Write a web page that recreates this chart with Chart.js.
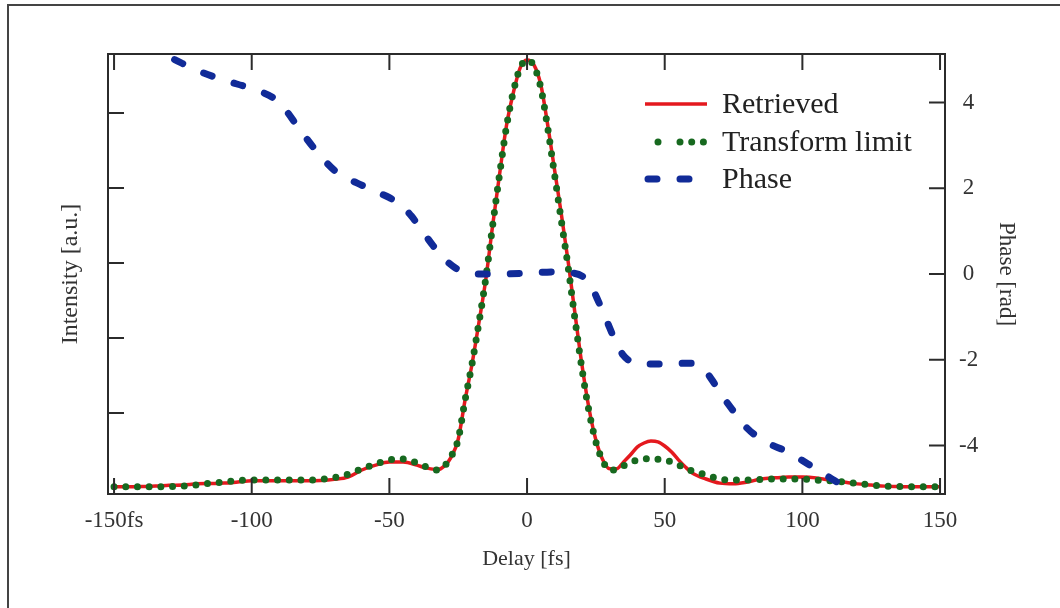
<!DOCTYPE html>
<html>
<head>
<meta charset="utf-8">
<script src="https://cdn.jsdelivr.net/npm/chart.js@4"></script>
<style>
  html, body { margin: 0; padding: 0; background: #fff; overflow: hidden; }
  #frame { position: absolute; left: 7px; top: 4px; width: 1100px; height: 700px;
           border: 2px solid #444; box-sizing: border-box; }
  #wrap { position: absolute; left: 0; top: 0; width: 1060px; height: 608px; }
</style>
</head>
<body>
<div id="frame"></div>
<div id="wrap"><canvas id="c" width="1060" height="608"></canvas></div>
<script>
// ── data ─────────────────────────────────────────────────────────
const DELAY_FS = [
  -150, -145, -140, -135, -130, -125, -120, -115, -110, -105, -100, -95, -90, -85, -80,
  -75, -70, -65, -60, -55, -50, -45, -40,
  -37.5, -35, -32.5, -30, -27.5, -25, -22.5, -20, -17.5, -15, -12.5, -10, -7.5, -5, -2.5,
  0, 2.5, 5, 7.5, 10, 12.5, 15, 17.5, 20, 22.5, 25, 27.5, 30, 32.5, 35, 37.5,
  40, 42.5, 45, 47.5, 50, 52.5, 55, 57.5,
  60, 65, 70, 75, 80, 85, 90, 95, 100, 105, 110, 115, 120, 125, 130, 135, 140, 145, 150,
];

const RETRIEVED = [
  0.003, 0.003, 0.004, 0.005, 0.007, 0.008, 0.011, 0.012, 0.013, 0.016, 0.019, 0.019, 0.019, 0.019, 0.019,
  0.020, 0.023, 0.029, 0.048, 0.061, 0.069, 0.069, 0.061,
  0.055, 0.051, 0.049, 0.059, 0.083, 0.130, 0.235, 0.330, 0.440, 0.555, 0.700, 0.835, 0.965, 1.053, 1.120,
  1.141, 1.128, 1.075, 0.968, 0.848, 0.728, 0.600, 0.460, 0.325, 0.212, 0.128, 0.075, 0.051, 0.051, 0.069, 0.088,
  0.109, 0.120, 0.125, 0.123, 0.112, 0.096, 0.075, 0.056,
  0.040, 0.024, 0.013, 0.011, 0.016, 0.024, 0.027, 0.029, 0.029, 0.027, 0.021, 0.016, 0.011, 0.008, 0.005, 0.004, 0.003, 0.003, 0.003,
];

const TRANSFORM_LIMIT = [
  0.003, 0.003, 0.003, 0.003, 0.004, 0.005, 0.008, 0.013, 0.016, 0.020, 0.021, 0.021, 0.021, 0.021, 0.021,
  0.023, 0.028, 0.037, 0.051, 0.064, 0.075, 0.077, 0.067,
  0.059, 0.051, 0.048, 0.059, 0.085, 0.130, 0.235, 0.330, 0.440, 0.558, 0.700, 0.835, 0.962, 1.056, 1.120,
  1.141, 1.125, 1.067, 0.960, 0.835, 0.710, 0.585, 0.445, 0.315, 0.205, 0.123, 0.072, 0.048, 0.049, 0.059, 0.067,
  0.075, 0.077, 0.079, 0.077, 0.075, 0.069, 0.061, 0.053,
  0.045, 0.035, 0.024, 0.021, 0.021, 0.023, 0.024, 0.024, 0.024, 0.021, 0.019, 0.016, 0.012, 0.008, 0.005, 0.004, 0.003, 0.003, 0.003,
];

const PHASE_FS = [
  -128, -120, -110, -100, -92, -88, -84, -80, -75, -70, -65, -60, -55, -50, -46, -42, -38, -34, -30, -26, -22,
  -18, -10, 0, 10, 16, 20, 23, 26, 29, 32, 35, 38, 42, 50, 58, 62, 65, 68, 71, 75, 80, 85, 90, 95, 100, 105, 110, 115, 117,
];
const PHASE_RAD = [
  5.0, 4.75, 4.52, 4.32, 4.1, 3.85, 3.5, 3.15, 2.75, 2.42, 2.22, 2.07, 1.92, 1.78, 1.62, 1.35, 1.0, 0.65, 0.35, 0.14, 0.03,
  0.0, 0.0, 0.02, 0.05, 0.03, -0.05, -0.25, -0.65, -1.1, -1.55, -1.9, -2.05, -2.1, -2.1, -2.08, -2.12, -2.28, -2.55, -2.85,
  -3.2, -3.6, -3.85, -4.02, -4.15, -4.35, -4.55, -4.75, -4.95, -5.05,
];

const X_TICK_STEP = 50;
const PHASE_TICK_STEP = 2;
const INTENSITY_TICK_STEP = 0.2;

const SERIF = "'Liberation Serif', 'Times New Roman', serif";
const INK = '#2b2b2b';
const TICK_LEN = 16;

// ── box, inward ticks and legend drawn in the plot area ──────────
const frameTicksLegend = {
  id: 'frameTicksLegend',
  afterDatasetsDraw(chart) {
    const { ctx, chartArea: a, scales } = chart;
    ctx.save();
    ctx.strokeStyle = INK;
    ctx.lineWidth = 2;
    ctx.setLineDash([]);
    ctx.strokeRect(a.left, a.top, a.right - a.left, a.bottom - a.top);

    ctx.beginPath();
    for (const t of scales.x.ticks) {
      const px = scales.x.getPixelForValue(t.value);
      ctx.moveTo(px, a.bottom); ctx.lineTo(px, a.bottom - TICK_LEN);
      ctx.moveTo(px, a.top); ctx.lineTo(px, a.top + TICK_LEN);
    }
    for (const t of scales.y2.ticks) {
      const py = scales.y2.getPixelForValue(t.value);
      ctx.moveTo(a.right, py); ctx.lineTo(a.right - TICK_LEN, py);
    }
    for (const t of scales.y.ticks) {
      if (t.value < 0.01) continue;
      const py = scales.y.getPixelForValue(t.value);
      ctx.moveTo(a.left, py); ctx.lineTo(a.left + TICK_LEN, py);
    }
    ctx.stroke();
    ctx.restore();
  },
  afterDraw(chart) {
    const { ctx, chartArea: a } = chart;
    const ds = chart.data.datasets;
    const x0 = a.right - 300, x1 = a.right - 238, tx = a.right - 223;
    const rows = [a.top + 50, a.top + 88, a.top + 125];
    ctx.save();
    ds.forEach((d, i) => {
      const y = rows[i];
      ctx.strokeStyle = d.borderColor;
      ctx.fillStyle = d.borderColor;
      ctx.lineWidth = d.borderWidth;
      ctx.lineCap = d.borderCapStyle || 'butt';
      if (i === 1) {
        // dotted sample "•  •••"
        [x0 + 13, x0 + 35, x0 + 46.7, x0 + 58.4].forEach(cx => {
          ctx.beginPath(); ctx.arc(cx, y, d.borderWidth / 2, 0, Math.PI * 2); ctx.fill();
        });
      } else {
        ctx.setLineDash(d.borderDash || []);
        ctx.beginPath();
        ctx.moveTo(i === 2 ? x0 + 3 : x0, y);
        ctx.lineTo(i === 2 ? x0 + 48 : x1, y);
        ctx.stroke();
        ctx.setLineDash([]);
      }
      ctx.fillStyle = '#222';
      ctx.font = `30px ${SERIF}`;
      ctx.textBaseline = 'middle';
      ctx.textAlign = 'left';
      ctx.fillText(d.label, tx, y + 1);
    });
    ctx.restore();
  },
};

const pts = (xs, ys) => xs.map((x, i) => ({ x, y: ys[i] }));

new Chart(document.getElementById('c'), {
  type: 'line',
  plugins: [frameTicksLegend],
  data: {
    datasets: [
      {
        label: 'Retrieved',
        yAxisID: 'y',
        data: pts(DELAY_FS, RETRIEVED),
        borderColor: '#e4191e',
        borderWidth: 3.5,
        pointRadius: 0,
        cubicInterpolationMode: 'monotone',
        order: 3,
      },
      {
        label: 'Transform limit',
        yAxisID: 'y',
        data: pts(DELAY_FS, TRANSFORM_LIMIT),
        borderColor: '#17691f',
        borderWidth: 7,
        borderDash: [0, 11.7],
        borderCapStyle: 'round',
        pointRadius: 0,
        cubicInterpolationMode: 'monotone',
        order: 2,
      },
      {
        label: 'Phase',
        yAxisID: 'y2',
        data: pts(PHASE_FS, PHASE_RAD),
        borderColor: '#112b98',
        borderWidth: 7,
        borderDash: [9, 23],
        borderCapStyle: 'round',
        pointRadius: 0,
        cubicInterpolationMode: 'monotone',
        order: 1,
      },
    ],
  },
  options: {
    responsive: false,
    devicePixelRatio: 1,
    animation: false,
    layout: { padding: { top: 54, left: 0, right: 0, bottom: 0 } },
    plugins: { legend: { display: false }, tooltip: { enabled: false } },
    scales: {
      x: {
        type: 'linear',
        position: 'bottom',
        min: -152.2,
        max: 151.8,
        border: { display: false },
        grid: { display: false, drawTicks: false },
        ticks: {
          stepSize: X_TICK_STEP,
          includeBounds: false,
          autoSkip: false,
          maxRotation: 0,
          padding: 13,
          color: '#333',
          font: { family: SERIF, size: 23 },
          callback: v => (v === -150 ? '-150fs' : String(v)),
        },
        title: {
          display: true, text: 'Delay [fs]', color: '#333',
          font: { family: SERIF, size: 22 }, padding: { top: 0, bottom: 36 },
        },
        afterFit(s) { s.height = 114; },
      },
      y: {
        type: 'linear',
        position: 'left',
        min: -0.016,
        max: 1.157,
        border: { display: false },
        grid: { display: false, drawTicks: false },
        ticks: { display: false, stepSize: INTENSITY_TICK_STEP, includeBounds: false },
        title: {
          display: true, text: 'Intensity [a.u.]', color: '#333',
          font: { family: SERIF, size: 24 }, padding: { top: 56, bottom: 0 },
        },
        afterFit(s) { s.width = 108; },
      },
      y2: {
        type: 'linear',
        position: 'right',
        min: -5.13,
        max: 5.13,
        border: { display: false },
        grid: { display: false, drawTicks: false },
        ticks: {
          stepSize: PHASE_TICK_STEP,
          includeBounds: false,
          crossAlign: 'center',
          padding: 14,
          color: '#333',
          font: { family: SERIF, size: 23 },
        },
        title: {
          display: true, text: 'Phase [rad]', color: '#333',
          font: { family: SERIF, size: 23 }, padding: { top: 40, bottom: 0 },
        },
        afterFit(s) { s.width = 115; },
      },
    },
  },
});
</script>
</body>
</html>
